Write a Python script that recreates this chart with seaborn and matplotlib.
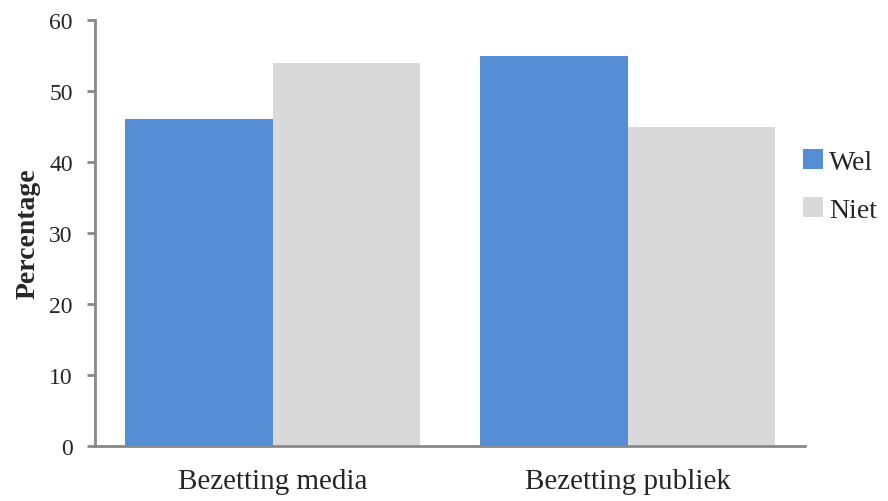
import matplotlib
matplotlib.use("Agg")
import matplotlib.pyplot as plt
import seaborn as sns
import pandas as pd
from matplotlib.patches import Patch

categories = ["Bezetting media", "Bezetting publiek"]
series = ["Wel", "Niet"]
wel = [46, 55]
niet = [54, 45]

df = pd.DataFrame({
    "categorie": categories * 2,
    "antwoord": ["Wel"] * 2 + ["Niet"] * 2,
    "waarde": wel + niet,
})

sns.set_style("white")
plt.rcParams["font.family"] = ["Liberation Serif", "DejaVu Serif"]

colors = {"Wel": "#558ED5", "Niet": "#D9D9D9"}
axis_gray = "#898989"

fig = plt.figure(figsize=(8.88, 5.02), dpi=100)
ax = fig.add_axes([95 / 888, 55 / 502, 710 / 888, 426 / 502])

sns.barplot(data=df, x="categorie", y="waarde", hue="antwoord",
            hue_order=series, palette=colors, width=0.83, gap=0,
            saturation=1, edgecolor="none", linewidth=0, ax=ax, legend=False)

ax.set_ylim(0, 60)
ax.set_xlim(-0.5, 1.5)
ax.set_yticks(range(0, 61, 10))
ax.set_xlabel("")
ax.set_ylabel("Percentage", fontsize=20, fontweight="bold", labelpad=6)

for side in ["top", "right"]:
    ax.spines[side].set_visible(False)
for side in ["left", "bottom"]:
    ax.spines[side].set_color(axis_gray)
    ax.spines[side].set_linewidth(2)

ax.tick_params(axis="y", which="both", left=True, length=6, width=2,
               color=axis_gray, labelsize=17, pad=10)
ax.tick_params(axis="x", bottom=False, labelsize=21, pad=12)

handles = [Patch(facecolor=colors[s], edgecolor="none") for s in series]
ax.legend(handles, series, loc="center left", bbox_to_anchor=(0.997, 0.61),
          frameon=False, fontsize=20, handlelength=0.72, handleheight=0.72,
          handletextpad=0.22, labelspacing=0.8, borderaxespad=0, borderpad=0)

fig.savefig("out.png", dpi=100)
